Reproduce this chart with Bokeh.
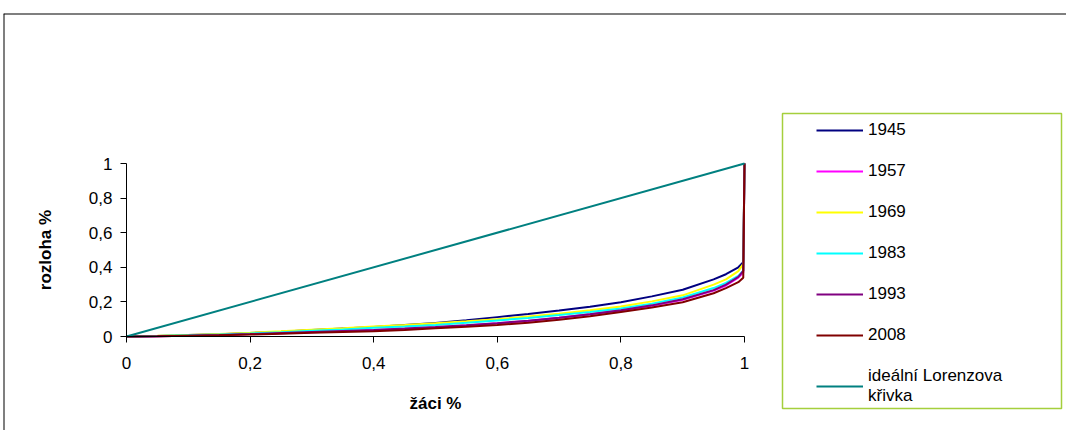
from bokeh.plotting import figure
from bokeh.models import (Range1d, Legend, LegendItem, BoxAnnotation, FixedTicker,
                          CustomJSTickFormatter, Span)
from bokeh.embed import file_html
from bokeh.resources import INLINE

# ---- data ----
x_share = [0, 0.05, 0.1, 0.15, 0.2, 0.25, 0.3, 0.35, 0.4, 0.45, 0.5, 0.55, 0.6, 0.65,
           0.7, 0.75, 0.8, 0.85, 0.9, 0.95, 0.97, 0.99, 0.998, 1.0]
y_1945 = [0, 0.003, 0.008, 0.013, 0.02, 0.028, 0.037, 0.046, 0.055, 0.066, 0.078, 0.094,
          0.112, 0.13, 0.15, 0.172, 0.198, 0.232, 0.27, 0.33, 0.36, 0.40, 0.43, 1.0]
y_1957 = [0, 0.002, 0.005, 0.009, 0.014, 0.019, 0.025, 0.031, 0.037, 0.044, 0.052, 0.063,
          0.076, 0.09, 0.108, 0.128, 0.15, 0.178, 0.212, 0.265, 0.295, 0.34, 0.37, 1.0]
y_1969 = [0, 0.004, 0.009, 0.015, 0.022, 0.03, 0.039, 0.048, 0.058, 0.067, 0.077, 0.088,
          0.10, 0.115, 0.132, 0.152, 0.173, 0.203, 0.238, 0.3, 0.33, 0.378, 0.42, 1.0]
y_1983 = [0, 0.003, 0.007, 0.012, 0.018, 0.025, 0.033, 0.041, 0.05, 0.058, 0.067, 0.079,
          0.093, 0.107, 0.124, 0.142, 0.162, 0.19, 0.225, 0.28, 0.31, 0.35, 0.38, 1.0]
y_1993 = [0, 0.002, 0.005, 0.009, 0.014, 0.02, 0.026, 0.032, 0.038, 0.046, 0.055, 0.065,
          0.077, 0.091, 0.109, 0.129, 0.152, 0.18, 0.215, 0.268, 0.3, 0.345, 0.38, 1.0]
y_2008 = [0, 0.001, 0.004, 0.007, 0.011, 0.016, 0.021, 0.026, 0.031, 0.038, 0.047, 0.056,
          0.066, 0.08, 0.097, 0.117, 0.142, 0.167, 0.198, 0.25, 0.28, 0.314, 0.34, 1.0]
ideal_x = [0, 1]
ideal_y = [0, 1]

series_names = ["1945", "1957", "1969", "1983", "1993", "2008"]
series_values = [y_1945, y_1957, y_1969, y_1983, y_1993, y_2008]
series_colors = ["#000080", "#FF00FF", "#FFFF00", "#00FFFF", "#800080", "#800000"]
ideal_name = "ideální Lorenzova\nkřivka"
ideal_color = "#008080"

tick_values = [0, 0.2, 0.4, 0.6, 0.8, 1]

FONT = "Liberation Sans"

# ---- layout (pixels in the picture; canvas origin at picture (0, 0)) ----
W, H = 1066, 430
LEFT, TOP = 3, 13         # outer chart border
PX0, PX1 = 126, 744       # picture x of data 0 and 1
PY0, PY1 = 336, 163       # picture y of data 0 and 1
sx = PX1 - PX0
sy = PY0 - PY1
x_start = (LEFT - PX0) / sx
x_end = (W - PX0) / sx
y_end = (PY0 - TOP) / sy
y_start = (PY0 - H) / sy

p = figure(width=W, height=H, output_backend="svg", toolbar_location=None,
           x_range=Range1d(x_start, x_end), y_range=Range1d(y_start, y_end),
           min_border_left=LEFT, min_border_right=0, min_border_top=TOP, min_border_bottom=0)
p.outline_line_color = None
p.grid.visible = False
p.background_fill_color = "white"
p.border_fill_color = "white"

# outer chart border (left and top edges)
p.add_layout(Span(location=x_start, dimension="height", line_color="black", line_width=2))
p.add_layout(Span(location=y_end, dimension="width", line_color="black", line_width=2))

renderers = []
for name, vals, col in zip(series_names, series_values, series_colors):
    r = p.line(x_share, vals, line_color=col, line_width=2)
    renderers.append((name, r))
r_ideal = p.line(ideal_x, ideal_y, line_color=ideal_color, line_width=2)
renderers.append((ideal_name, r_ideal))

fmt = CustomJSTickFormatter(code="return tick.toString().replace('.', ',');")
for ax in (p.xaxis[0], p.yaxis[0]):
    ax.fixed_location = 0
    ax.bounds = (0, 1)
    ax.ticker = FixedTicker(ticks=tick_values)
    ax.formatter = fmt
    ax.minor_tick_line_color = None
    ax.major_tick_in = 0
    ax.major_tick_out = 6
    ax.axis_line_color = "#000000"
    ax.major_tick_line_color = "#000000"
    ax.major_label_text_font = FONT
    ax.major_label_text_font_size = "17px"
    ax.major_label_text_color = "#000000"
    ax.axis_label_text_font = FONT
    ax.axis_label_text_font_size = "17px"
    ax.axis_label_text_font_style = "bold"
    ax.axis_label_text_color = "#000000"

p.xaxis.axis_label = "žáci %"
p.yaxis.axis_label = "rozloha %"
p.xaxis.major_label_standoff = 14
p.yaxis.major_label_standoff = 8
p.xaxis.axis_label_standoff = 22
p.yaxis.axis_label_standoff = 31

legend = Legend(items=[LegendItem(label=n, renderers=[r]) for n, r in renderers],
                location=(813, 24), orientation="vertical",
                border_line_color=None, background_fill_alpha=0,
                padding=6, margin=0, spacing=21,
                glyph_width=47, glyph_height=20, label_height=20, label_standoff=5,
                label_text_font=FONT, label_text_font_size="17px",
                label_text_color="#000000")
p.add_layout(legend, "center")

box = BoxAnnotation(left=782, right=1061, top=113, bottom=408,
                    left_units="canvas", right_units="canvas",
                    top_units="canvas", bottom_units="canvas",
                    fill_alpha=0, line_color="#a5cf3c", line_alpha=1.0, line_width=1.5)
p.add_layout(box)

open("out.html", "w").write(file_html(p, INLINE))
